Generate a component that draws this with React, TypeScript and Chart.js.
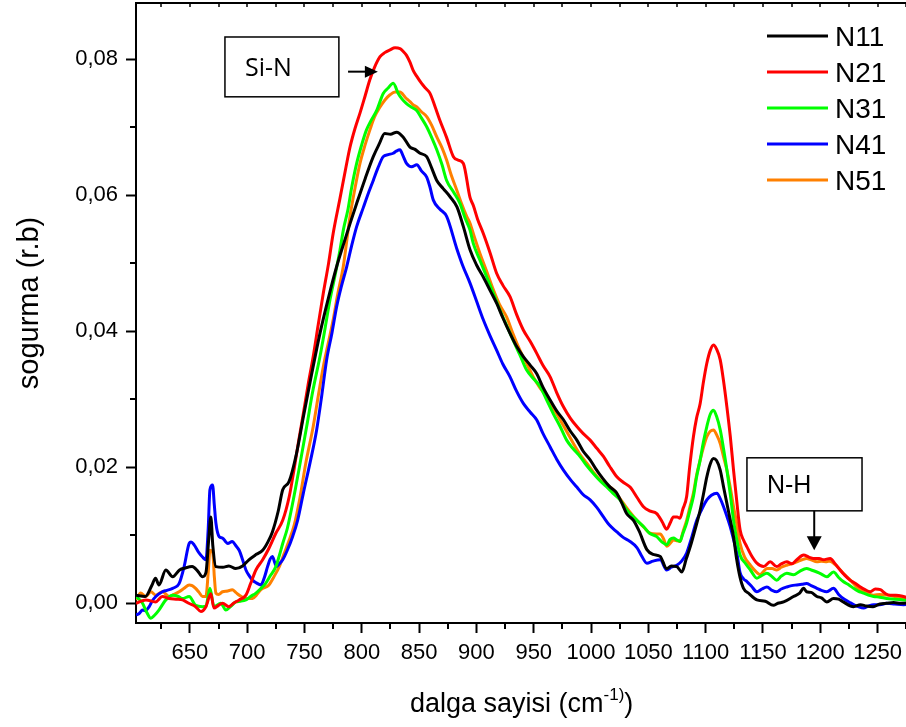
import React, { useEffect, useRef } from 'react';
import { Chart, registerables } from 'chart.js';

Chart.register(...registerables);

// ---------- data ----------
const seriesNames = ['N11', 'N21', 'N31', 'N41', 'N51'];
const seriesColors = ['#000000', '#ff0000', '#00ff00', '#0000ff', '#ff8000'];

const n11Wave = [603, 611, 617, 620, 623, 629, 635, 641, 646, 652, 657, 661, 664, 666.5, 668.3, 670, 672.7, 678.8, 684, 690, 696, 701.5, 708, 713.5, 718, 722, 727, 731, 736.5, 743, 749, 756, 763.5, 771, 778, 784, 790, 795.5, 803, 810, 815, 820, 825, 830.4, 836, 842, 846, 850.8, 856.6, 861, 865.4, 871, 877, 883, 888.6, 894.4, 900, 906, 912, 917.7, 923, 929.3, 935, 940.9, 947, 952.5, 958, 964.3, 970, 975.9, 982, 987.6, 993, 999.2, 1004, 1010, 1016, 1022, 1027, 1031, 1037, 1042, 1048.7, 1054, 1060.3, 1066, 1070, 1074.8, 1079.2, 1083, 1086.5, 1091, 1095.2, 1098, 1101, 1104, 1106.8, 1109.5, 1112.7, 1115.5, 1118.5, 1121.5, 1124.3, 1127, 1130, 1133, 1138, 1144.7, 1152, 1159, 1163, 1168, 1176.6, 1182, 1185.4, 1188, 1192, 1197, 1201, 1205.7, 1211.5, 1216, 1220, 1229, 1235, 1240, 1246, 1252, 1258, 1264, 1270, 1280];
const n11Abs = [0.0012, 0.0010, 0.0027, 0.0037, 0.0027, 0.0049, 0.0039, 0.0049, 0.0052, 0.0054, 0.0047, 0.0039, 0.0045, 0.0095, 0.0127, 0.0085, 0.0054, 0.0053, 0.0055, 0.0051, 0.0055, 0.0064, 0.0072, 0.0078, 0.0090, 0.0105, 0.0135, 0.0167, 0.0179, 0.0220, 0.0274, 0.0335, 0.0397, 0.0450, 0.0495, 0.0528, 0.0560, 0.0588, 0.0625, 0.0657, 0.0675, 0.0691, 0.0690, 0.0693, 0.0686, 0.0671, 0.0668, 0.0662, 0.0657, 0.0640, 0.0622, 0.0610, 0.0598, 0.0583, 0.0554, 0.0520, 0.0498, 0.0480, 0.0460, 0.0441, 0.0420, 0.0397, 0.0378, 0.0363, 0.0350, 0.0338, 0.0318, 0.0299, 0.0283, 0.0270, 0.0253, 0.0240, 0.0224, 0.0211, 0.0198, 0.0184, 0.0172, 0.0163, 0.0147, 0.0132, 0.0122, 0.0106, 0.0079, 0.0072, 0.0069, 0.0051, 0.0055, 0.0054, 0.0046, 0.0065, 0.0083, 0.0110, 0.0137, 0.0160, 0.0186, 0.0205, 0.0213, 0.0210, 0.0196, 0.0172, 0.0147, 0.0122, 0.0098, 0.0065, 0.0038, 0.0022, 0.0014, 0.0005, 0.0003, -0.0003, 0.0000, 0.0002, 0.0010, 0.0015, 0.0022, 0.0017, 0.0016, 0.0010, 0.0008, 0.0002, 0.0007, 0.0006, 0.0002, -0.0005, -0.0002, -0.0004, -0.0005, -0.0001, 0.0000, 0.0001, 0.0000, 0.0001];

const n21Wave = [603, 611.6, 620, 626, 632, 638, 643.6, 649, 655, 659.6, 664, 668.3, 671, 675, 678.5, 684, 688, 693, 698.9, 703, 707.6, 713.5, 719, 725, 731, 736.7, 741, 745, 749, 753, 757.6, 762, 766.4, 771, 775, 781, 786, 789.7, 794, 798.4, 803, 807, 811, 815.9, 820, 824.6, 829, 833.3, 836, 839, 842, 844.8, 848, 852, 856, 859.5, 864, 868, 874, 879.9, 884, 888.6, 894.4, 897.3, 901, 906, 912, 917.7, 923, 929.3, 935, 940.9, 947, 952.5, 958, 964.3, 970, 975.9, 982, 987.6, 993, 999.2, 1005, 1010.8, 1016, 1022.5, 1028, 1034, 1040, 1045.7, 1051, 1057.3, 1062, 1066, 1069, 1071.8, 1075, 1077.6, 1080, 1083.4, 1086, 1089.3, 1092, 1095.2, 1098, 1101, 1104, 1106.8, 1109.5, 1112.7, 1115.5, 1118.5, 1121.5, 1124.3, 1127, 1130, 1133, 1136, 1140, 1144.7, 1150.5, 1156.3, 1162, 1166, 1170.8, 1175, 1179.5, 1185.4, 1190, 1194, 1199, 1202.7, 1208.6, 1213, 1217.3, 1221, 1226, 1230, 1235, 1239, 1243.6, 1248, 1252.4, 1257, 1261, 1266, 1272.6, 1280];
const n21Abs = [0.0000, 0.0005, 0.0002, 0.0010, 0.0007, 0.0006, 0.0005, 0.0000, -0.0005, -0.0012, -0.0005, 0.0014, -0.0007, -0.0003, 0.0000, -0.0005, 0.0000, 0.0005, 0.0012, 0.0029, 0.0049, 0.0064, 0.0081, 0.0103, 0.0122, 0.0157, 0.0198, 0.0240, 0.0279, 0.0320, 0.0363, 0.0410, 0.0456, 0.0500, 0.0544, 0.0596, 0.0640, 0.0671, 0.0698, 0.0721, 0.0747, 0.0770, 0.0788, 0.0804, 0.0810, 0.0814, 0.0817, 0.0816, 0.0812, 0.0806, 0.0796, 0.0784, 0.0775, 0.0765, 0.0757, 0.0750, 0.0730, 0.0711, 0.0685, 0.0657, 0.0652, 0.0647, 0.0597, 0.0585, 0.0565, 0.0544, 0.0515, 0.0485, 0.0468, 0.0451, 0.0425, 0.0402, 0.0385, 0.0368, 0.0350, 0.0333, 0.0310, 0.0289, 0.0272, 0.0260, 0.0250, 0.0240, 0.0228, 0.0216, 0.0202, 0.0186, 0.0178, 0.0171, 0.0156, 0.0142, 0.0136, 0.0132, 0.0120, 0.0109, 0.0118, 0.0127, 0.0127, 0.0125, 0.0138, 0.0157, 0.0200, 0.0245, 0.0272, 0.0294, 0.0325, 0.0353, 0.0372, 0.0380, 0.0374, 0.0358, 0.0328, 0.0289, 0.0245, 0.0196, 0.0152, 0.0108, 0.0093, 0.0083, 0.0070, 0.0059, 0.0054, 0.0061, 0.0054, 0.0058, 0.0061, 0.0058, 0.0064, 0.0071, 0.0068, 0.0066, 0.0066, 0.0064, 0.0066, 0.0058, 0.0049, 0.0042, 0.0034, 0.0030, 0.0024, 0.0020, 0.0017, 0.0021, 0.0020, 0.0014, 0.0012, 0.0012, 0.0010, 0.0006];

const n31Wave = [603, 608.7, 612, 616, 619, 623, 629, 635, 640, 643.6, 649.4, 655, 661, 664, 667.5, 671, 677, 681.4, 686, 690, 694, 698.9, 703, 707.6, 712, 716, 720, 725, 728, 731, 735, 740, 745, 751.9, 757, 763.5, 768, 772.2, 777, 781, 784, 788, 791, 795.5, 800, 804, 808, 813, 818.7, 823, 827.4, 831.8, 835, 839, 843, 847.9, 852, 856.6, 861, 865.4, 870, 874, 880, 885.7, 890, 894.4, 897.3, 903, 909, 915, 920.6, 926, 932, 938, 943.8, 950, 955.5, 961, 967, 973, 978.7, 984, 990.4, 996, 1002, 1008, 1013.7, 1019, 1025.4, 1030, 1034, 1040, 1045.7, 1051, 1057.3, 1062, 1066, 1069, 1071.8, 1075, 1077.6, 1080, 1083.4, 1086, 1089.3, 1092, 1095.2, 1098, 1101, 1104, 1106.8, 1109.5, 1112.7, 1115.5, 1118.5, 1121.5, 1124.3, 1127, 1130, 1135, 1139, 1144.7, 1149, 1153.4, 1158, 1162, 1166, 1170.8, 1176.6, 1182, 1188, 1192, 1197, 1201, 1205.7, 1211.5, 1216, 1220, 1225, 1229, 1233, 1237.7, 1242, 1246.5, 1252, 1258, 1265, 1272.6, 1280];
const n31Abs = [0.0010, 0.0000, -0.0012, -0.0022, -0.0018, -0.0010, 0.0005, 0.0012, 0.0010, 0.0007, 0.0010, -0.0003, -0.0005, -0.0004, 0.0022, -0.0005, 0.0000, -0.0010, -0.0004, 0.0002, 0.0003, 0.0005, 0.0010, 0.0015, 0.0022, 0.0029, 0.0040, 0.0054, 0.0070, 0.0088, 0.0110, 0.0150, 0.0195, 0.0260, 0.0310, 0.0363, 0.0405, 0.0446, 0.0485, 0.0520, 0.0550, 0.0580, 0.0610, 0.0647, 0.0675, 0.0696, 0.0710, 0.0725, 0.0750, 0.0758, 0.0765, 0.0750, 0.0742, 0.0735, 0.0730, 0.0725, 0.0714, 0.0701, 0.0685, 0.0667, 0.0645, 0.0622, 0.0605, 0.0588, 0.0567, 0.0549, 0.0529, 0.0505, 0.0480, 0.0455, 0.0431, 0.0410, 0.0387, 0.0365, 0.0343, 0.0330, 0.0319, 0.0300, 0.0279, 0.0260, 0.0240, 0.0228, 0.0216, 0.0203, 0.0191, 0.0180, 0.0171, 0.0162, 0.0152, 0.0140, 0.0132, 0.0122, 0.0113, 0.0103, 0.0098, 0.0090, 0.0086, 0.0094, 0.0096, 0.0093, 0.0091, 0.0102, 0.0118, 0.0135, 0.0157, 0.0185, 0.0211, 0.0237, 0.0260, 0.0278, 0.0284, 0.0275, 0.0255, 0.0228, 0.0196, 0.0160, 0.0122, 0.0095, 0.0071, 0.0058, 0.0049, 0.0037, 0.0041, 0.0044, 0.0039, 0.0034, 0.0040, 0.0044, 0.0042, 0.0047, 0.0051, 0.0049, 0.0046, 0.0043, 0.0039, 0.0046, 0.0038, 0.0032, 0.0027, 0.0022, 0.0018, 0.0015, 0.0012, 0.0010, 0.0009, 0.0007, 0.0006, 0.0005, 0.0004];

const n41Wave = [603, 605.8, 608.7, 611, 614.5, 617, 620.3, 626, 630, 635, 640.6, 645, 649.4, 651, 653.7, 658, 661, 664, 666, 667.5, 669.8, 671.3, 672.7, 675.6, 678.5, 681, 683, 687, 690, 693, 696, 698.9, 702, 704.7, 708, 712, 715, 717.8, 720, 722, 724, 725.5, 728, 731, 735, 739.6, 744, 749, 755, 760.6, 765, 769.3, 774, 778, 782, 786.8, 791, 795.5, 801.3, 805, 810, 814, 818.7, 823, 827.4, 830, 833.3, 836, 839, 843.5, 848, 852, 856.6, 859.5, 862.4, 868, 874, 882.8, 888, 894.4, 900, 906, 912, 917.7, 923, 929.3, 935, 940.9, 947, 952.5, 958, 964.3, 970, 975.9, 982, 987.6, 993, 999.2, 1005, 1010.8, 1016, 1022.5, 1028, 1034, 1040, 1044, 1048.7, 1054, 1060.3, 1066, 1070, 1074.8, 1079, 1083.4, 1088, 1092.2, 1096, 1101, 1105, 1109.8, 1112.7, 1115.6, 1118.5, 1121.4, 1124.3, 1127.2, 1130, 1133, 1136, 1140, 1144.7, 1149, 1153.4, 1158, 1162, 1166, 1170.8, 1175, 1179.5, 1184, 1188, 1192, 1197, 1201, 1205.7, 1211.5, 1216, 1220, 1225, 1229, 1233, 1237.7, 1242, 1246.5, 1252, 1258, 1265, 1272.6, 1280];
const n41Abs = [-0.0017, -0.0015, -0.0010, -0.0011, -0.0005, 0.0003, 0.0010, 0.0017, 0.0019, 0.0022, 0.0029, 0.0054, 0.0088, 0.0090, 0.0086, 0.0074, 0.0068, 0.0064, 0.0110, 0.0167, 0.0174, 0.0145, 0.0118, 0.0098, 0.0096, 0.0091, 0.0088, 0.0091, 0.0085, 0.0078, 0.0064, 0.0049, 0.0040, 0.0034, 0.0030, 0.0027, 0.0038, 0.0054, 0.0065, 0.0069, 0.0060, 0.0054, 0.0058, 0.0064, 0.0078, 0.0098, 0.0122, 0.0162, 0.0208, 0.0255, 0.0305, 0.0358, 0.0398, 0.0436, 0.0465, 0.0495, 0.0525, 0.0554, 0.0582, 0.0600, 0.0622, 0.0640, 0.0657, 0.0660, 0.0662, 0.0665, 0.0667, 0.0658, 0.0647, 0.0642, 0.0645, 0.0636, 0.0627, 0.0612, 0.0593, 0.0580, 0.0569, 0.0522, 0.0497, 0.0471, 0.0445, 0.0417, 0.0393, 0.0372, 0.0352, 0.0333, 0.0312, 0.0294, 0.0281, 0.0270, 0.0250, 0.0230, 0.0212, 0.0196, 0.0182, 0.0171, 0.0160, 0.0152, 0.0141, 0.0127, 0.0115, 0.0105, 0.0097, 0.0091, 0.0082, 0.0070, 0.0059, 0.0062, 0.0064, 0.0049, 0.0053, 0.0056, 0.0062, 0.0074, 0.0098, 0.0122, 0.0136, 0.0152, 0.0159, 0.0162, 0.0154, 0.0142, 0.0128, 0.0113, 0.0094, 0.0074, 0.0045, 0.0036, 0.0032, 0.0025, 0.0017, 0.0021, 0.0024, 0.0019, 0.0017, 0.0021, 0.0024, 0.0026, 0.0027, 0.0028, 0.0029, 0.0026, 0.0022, 0.0019, 0.0017, 0.0022, 0.0013, 0.0007, 0.0002, -0.0002, -0.0005, -0.0007, -0.0004, -0.0002, -0.0002, 0.0000, -0.0001, -0.0002, 0.0000];

const n51Wave = [603, 607, 611.6, 616, 620.3, 626, 632, 636, 640.6, 645, 649.4, 652, 655, 658, 661, 664, 666, 667.5, 670, 671.3, 672.7, 675, 678.5, 683, 687, 690, 693, 698.9, 704.7, 708, 712, 719, 723, 728, 732, 736.7, 741, 746, 751, 757.6, 762, 766.4, 771, 775, 779, 783.8, 789.7, 794, 798.4, 803, 807, 811, 815.9, 820, 824.6, 829, 833.3, 838, 842, 845, 848, 852, 856.6, 861, 865.4, 870, 874, 878, 882.8, 887, 891.5, 894.4, 898, 903, 909, 914.8, 920, 926.4, 932, 938, 944, 949.6, 955, 961.3, 967, 973, 979, 984.6, 990, 996.3, 1002, 1008, 1014, 1019.6, 1024, 1028.3, 1034, 1040, 1046, 1051.6, 1057, 1060.3, 1063.2, 1066, 1069, 1071.8, 1075, 1077.6, 1080, 1083.4, 1086, 1089.3, 1092, 1095.2, 1098, 1101, 1104, 1106.8, 1109.5, 1112.7, 1115.5, 1118.5, 1121.5, 1124.3, 1127, 1130, 1134, 1139, 1143, 1147.6, 1150, 1153.4, 1158, 1162, 1166, 1170.8, 1175, 1179.5, 1184, 1188, 1192, 1197, 1201, 1205.7, 1208, 1211.5, 1216, 1220, 1225, 1229, 1233, 1237.7, 1242, 1246.5, 1252, 1258, 1265, 1272.6, 1280];
const n51Abs = [0.0005, 0.0015, 0.0010, 0.0017, 0.0012, 0.0017, 0.0010, 0.0013, 0.0017, 0.0022, 0.0027, 0.0026, 0.0022, 0.0016, 0.0010, 0.0010, 0.0045, 0.0078, 0.0074, 0.0040, 0.0015, 0.0013, 0.0017, 0.0018, 0.0020, 0.0016, 0.0012, 0.0007, 0.0007, 0.0012, 0.0020, 0.0027, 0.0038, 0.0054, 0.0072, 0.0093, 0.0115, 0.0155, 0.0205, 0.0260, 0.0305, 0.0348, 0.0385, 0.0417, 0.0455, 0.0495, 0.0569, 0.0610, 0.0647, 0.0675, 0.0696, 0.0715, 0.0730, 0.0740, 0.0748, 0.0752, 0.0752, 0.0744, 0.0738, 0.0733, 0.0730, 0.0723, 0.0716, 0.0703, 0.0686, 0.0670, 0.0652, 0.0630, 0.0608, 0.0588, 0.0569, 0.0559, 0.0540, 0.0515, 0.0488, 0.0461, 0.0440, 0.0421, 0.0396, 0.0372, 0.0352, 0.0333, 0.0318, 0.0304, 0.0287, 0.0270, 0.0252, 0.0235, 0.0220, 0.0206, 0.0193, 0.0181, 0.0174, 0.0167, 0.0157, 0.0147, 0.0134, 0.0122, 0.0112, 0.0103, 0.0102, 0.0102, 0.0095, 0.0084, 0.0088, 0.0093, 0.0092, 0.0091, 0.0104, 0.0122, 0.0140, 0.0162, 0.0188, 0.0211, 0.0229, 0.0245, 0.0253, 0.0255, 0.0248, 0.0235, 0.0216, 0.0196, 0.0170, 0.0142, 0.0118, 0.0088, 0.0068, 0.0056, 0.0048, 0.0042, 0.0046, 0.0051, 0.0051, 0.0049, 0.0053, 0.0056, 0.0058, 0.0061, 0.0064, 0.0066, 0.0064, 0.0061, 0.0062, 0.0061, 0.0062, 0.0059, 0.0052, 0.0044, 0.0036, 0.0029, 0.0022, 0.0017, 0.0014, 0.0012, 0.0013, 0.0012, 0.0010, 0.0007, 0.0006];

const seriesWaves = [n11Wave, n21Wave, n31Wave, n41Wave, n51Wave];
const seriesAbs = [n11Abs, n21Abs, n31Abs, n41Abs, n51Abs];

// axis ranges and ticks
const xRange = [603, 1280];
const yRange = [-0.0029, 0.0883];
const xMajorStep = 50;
const xMinorStep = 25;
const yMajorStep = 0.02;
const yMinorStep = 0.01;

// texts
const yTitle = 'sogurma (r.b)';
const xTitleMain = 'dalga sayisi (cm';
const xTitleSup = '-1)';
const xTitleTail = ')';

// annotations (data coordinates)
const siNBox = { label: 'Si-N', x0: 680.6, x1: 780, y0: 0.0745, y1: 0.0833 };
const siNArrow = { x0: 788, x1: 814, y: 0.0782 };
const nHBox = { label: 'N-H', x0: 1136, x1: 1236.4, y0: 0.0136, y1: 0.0214 };
const nHArrow = { x: 1194.7, y0: 0.0136, y1: 0.0078 };

const FONT = '"Liberation Sans", Arial, sans-serif';

const decorPlugin = {
  id: 'decor',
  afterDraw(chart: any) {
    const { ctx, chartArea: a, scales } = chart;
    const x = scales.x;
    const y = scales.y;
    ctx.save();
    ctx.strokeStyle = '#000';
    ctx.fillStyle = '#000';
    const seg = (x0: number, y0: number, x1: number, y1: number, w: number) => {
      ctx.lineWidth = w;
      ctx.beginPath();
      ctx.moveTo(x0, y0);
      ctx.lineTo(x1, y1);
      ctx.stroke();
    };
    // top frame
    seg(a.left - 1, a.top, a.right, a.top, 2);
    // bottom minor ticks + top inner ticks
    for (let v = Math.ceil(xRange[0] / xMinorStep) * xMinorStep; v <= xRange[1]; v += xMinorStep) {
      const px = Math.round(x.getPixelForValue(v));
      if (v % xMajorStep !== 0) seg(px, a.bottom, px, a.bottom + 6, 2);
      seg(px, a.top, px, a.top + 4, 1.5);
    }
    // left minor ticks
    for (let k = 0; ; k++) {
      const v = yMinorStep + k * yMajorStep;
      if (v > yRange[1]) break;
      const py = Math.round(y.getPixelForValue(v));
      seg(a.left - 6, py, a.left, py, 2);
    }

    // legend
    chart.data.datasets.forEach((ds: any, i: number) => {
      const ly = 36 + i * 36;
      ctx.strokeStyle = ds.borderColor;
      seg(767, ly, 828, ly, 3);
      ctx.fillStyle = '#000';
      ctx.font = `28px ${FONT}`;
      ctx.textBaseline = 'alphabetic';
      ctx.textAlign = 'left';
      ctx.fillText(ds.label, 835, ly + 10);
    });
    ctx.strokeStyle = '#000';

    // annotation boxes
    const drawBox = (b: any, font: string, textDx: number) => {
      const bx0 = x.getPixelForValue(b.x0);
      const bx1 = x.getPixelForValue(b.x1);
      const by0 = y.getPixelForValue(b.y1);
      const by1 = y.getPixelForValue(b.y0);
      ctx.lineWidth = 1.5;
      ctx.strokeRect(bx0, by0, bx1 - bx0, by1 - by0);
      ctx.font = font;
      ctx.textAlign = 'left';
      ctx.textBaseline = 'alphabetic';
      ctx.fillText(b.label, bx0 + textDx, (by0 + by1) / 2 + 9);
    };
    drawBox(siNBox, `25px "Open Sans", sans-serif`, 20);
    drawBox(nHBox, `25px ${FONT}`, 20);

    // Si-N arrow (pointing right)
    {
      const ax0 = x.getPixelForValue(siNArrow.x0);
      const ax1 = x.getPixelForValue(siNArrow.x1);
      const ay = y.getPixelForValue(siNArrow.y);
      seg(ax0, ay, ax1 - 10, ay, 2);
      ctx.beginPath();
      ctx.moveTo(ax1, ay);
      ctx.lineTo(ax1 - 13, ay - 6);
      ctx.lineTo(ax1 - 13, ay + 6);
      ctx.closePath();
      ctx.fill();
    }
    // N-H arrow (pointing down)
    {
      const ax = x.getPixelForValue(nHArrow.x);
      const ay0 = y.getPixelForValue(nHArrow.y0);
      const ay1 = y.getPixelForValue(nHArrow.y1);
      seg(ax, ay0, ax, ay1 - 10, 2);
      ctx.beginPath();
      ctx.moveTo(ax, ay1);
      ctx.lineTo(ax - 7.5, ay1 - 14);
      ctx.lineTo(ax + 7.5, ay1 - 14);
      ctx.closePath();
      ctx.fill();
    }

    // x title with superscript
    ctx.textAlign = 'left';
    ctx.textBaseline = 'alphabetic';
    const mainFont = `27px ${FONT}`;
    const supFont = `17px ${FONT}`;
    ctx.font = mainFont;
    const wMain = ctx.measureText(xTitleMain).width;
    ctx.font = supFont;
    const wSup = ctx.measureText(xTitleSup).width;
    let tx = 410;
    const base = 712;
    ctx.font = mainFont;
    ctx.fillText(xTitleMain, tx, base);
    tx += wMain;
    ctx.font = supFont;
    ctx.fillText(xTitleSup, tx, base - 12);
    tx += wSup;
    ctx.font = mainFont;
    ctx.fillText(xTitleTail, tx, base);

    // y title
    ctx.save();
    ctx.translate(38, 303);
    ctx.rotate(-Math.PI / 2);
    ctx.font = `29px ${FONT}`;
    ctx.textAlign = 'center';
    ctx.textBaseline = 'alphabetic';
    ctx.fillText(yTitle, 0, 0);
    ctx.restore();

    ctx.restore();
  },
};

export default function App() {
  const ref = useRef<HTMLCanvasElement | null>(null);

  useEffect(() => {
    if (!ref.current) return;
    const datasets = seriesNames.map((name, i) => ({
      label: name,
      data: seriesWaves[i].map((w, j) => ({ x: w, y: seriesAbs[i][j] })),
      borderColor: seriesColors[i],
      backgroundColor: seriesColors[i],
      borderWidth: 3,
      pointRadius: 0,
      fill: false,
      cubicInterpolationMode: 'monotone' as const,
    }));
    const chart = new Chart(ref.current, {
      type: 'line',
      data: { datasets },
      options: {
        animation: false,
        responsive: false,
        devicePixelRatio: 1,
        layout: { padding: { top: 3, right: 4, left: 0, bottom: 0 } },
        plugins: { legend: { display: false }, tooltip: { enabled: false } },
        scales: {
          x: {
            type: 'linear',
            position: 'bottom',
            min: xRange[0],
            max: xRange[1],
            afterFit: (s: any) => { s.height = 104; s.paddingLeft = 0; s.paddingRight = 0; },
            ticks: {
              stepSize: xMajorStep,
              includeBounds: false,
              autoSkip: false,
              maxRotation: 0,
              padding: 7,
              color: '#000',
              font: { family: FONT, size: 22 },
              callback: (v: any) => String(Math.round(Number(v))),
            },
            grid: { display: true, drawOnChartArea: false, drawTicks: true, tickLength: 10, tickColor: '#000', tickWidth: 2 },
            border: { display: true, color: '#000', width: 2 },
          },
          y: {
            type: 'linear',
            min: yRange[0],
            max: yRange[1],
            afterFit: (s: any) => { s.width = 136; s.paddingTop = 0; s.paddingBottom = 0; },
            ticks: {
              stepSize: yMajorStep,
              includeBounds: false,
              padding: 8,
              color: '#000',
              font: { family: FONT, size: 22 },
              callback: (v: any) => Number(v).toFixed(2).replace('.', ','),
            },
            grid: { display: true, drawOnChartArea: false, drawTicks: true, tickLength: 10, tickColor: '#000', tickWidth: 2 },
            border: { display: true, color: '#000', width: 2 },
          },
        },
      },
      plugins: [decorPlugin],
    });
    return () => chart.destroy();
  }, []);

  return (
    <div style={{ position: 'fixed', left: 0, top: 0, width: 906, height: 727, overflow: 'hidden', background: '#fff' }}>
      <canvas ref={ref} width={916} height={727} style={{ display: 'block' }} />
    </div>
  );
}
